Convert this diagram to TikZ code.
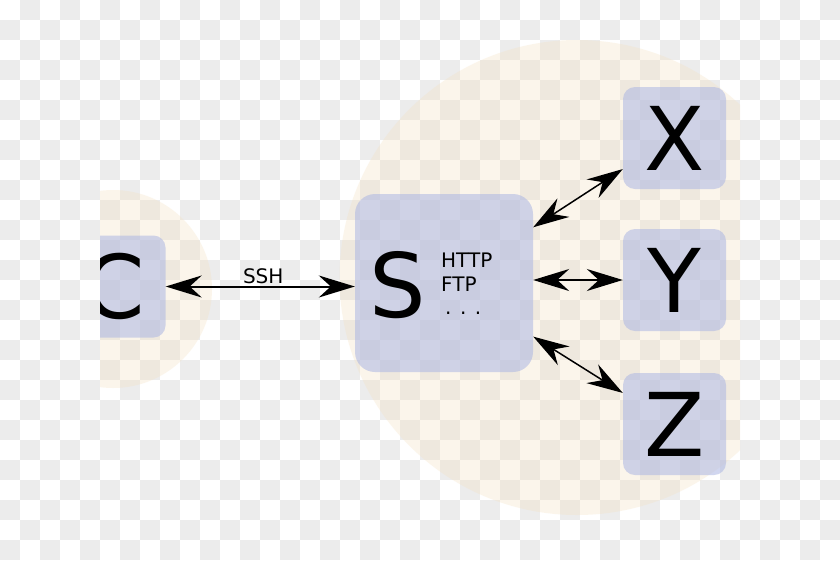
\documentclass[tikz,border=0pt]{standalone}
\usepackage{fontspec}
\setmainfont{DejaVu Sans}
\usepackage{tikz}
\usetikzlibrary{arrows.meta,positioning}
\definecolor{halo}{RGB}{245,225,190}
\definecolor{hostbox}{RGB}{172,182,226}
\definecolor{checker}{RGB}{236,236,236}

\begin{document}
\begin{tikzpicture}[x=1pt,y=-1pt,
    host/.style={fill=hostbox,fill opacity=0.55,text opacity=1,rounded corners=12pt,
                 minimum width=103pt,minimum height=102pt,inner sep=0pt,
                 font=\fontsize{88}{88}\selectfont},
    zone/.style={fill=halo,fill opacity=0.3},
    link/.style={{Stealth[length=36pt,width=22pt,inset=12pt]}-{Stealth[length=36pt,width=22pt,inset=12pt]},
                 line width=1.5pt},
    small/.style={font=\fontsize{20}{23.5}\selectfont,inner sep=0pt}]
  \useasboundingbox (0,0) rectangle (840,560);
  % transparency grid
  \fill[white] (0,0) rectangle (840,560);
  \foreach \i in {0,...,41}
    \foreach \j in {0,...,27}{
      \pgfmathtruncatemacro{\k}{mod(\i+\j,2)}
      \ifnum\k=1 \fill[checker] (20*\i,20*\j) rectangle ++(20,20);\fi
    }
  \begin{scope}
    \clip (100,0) rectangle (740,560);
    \fill[zone] (113,289) circle (99pt);
    \fill[zone] (577,277.5) circle (237.5pt);
    \node[host] (cli) at (114,286.5) {C};
    \node[host,rounded corners=20pt,minimum size=178pt] (srv) at (444,283) {};
    \node[font=\fontsize{89}{89}\selectfont,inner sep=0pt] (srvname) at (397.5,285.5) {S};
    \node[small,align=left,anchor=west] (proto) at (441,284) {HTTP\\FTP\\\hspace*{4pt}. . .};
    \node[host] (hx) at (674.5,138) {X};
    \node[host] (hy) at (674.5,280) {Y};
    \node[host] (hz) at (674.5,424) {Z};
    % links
    \draw[link,line width=2pt] (cli.east) -- node[small,above=2pt,xshift=3pt] (ssh) {SSH} (cli.east -| srv.west);
    \draw[link] (srv.32) -- (hx.211);
    \draw[link] (hy.west -| srv.east) -- (hy.west);
    \draw[link] (srv.-31) -- (hz.149);
  \end{scope}
\end{tikzpicture}
\end{document}
